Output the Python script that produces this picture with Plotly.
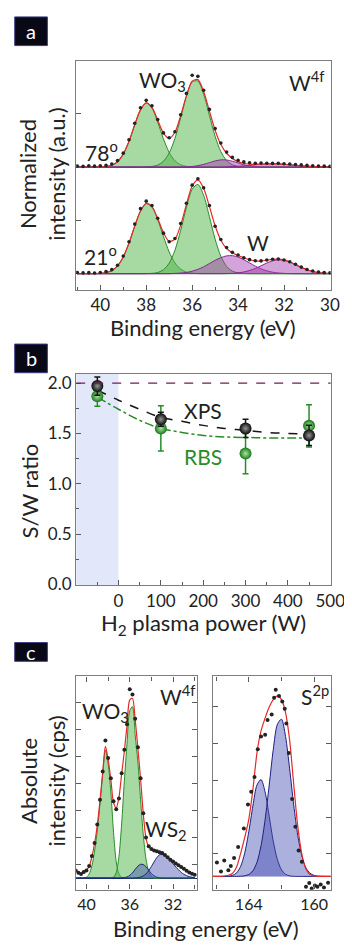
import plotly.graph_objects as go

# ---------------- Panel a : W4f spectra (normalized), energy grid in eV ----------------
E_W4F = [41.0, 40.75, 40.5, 40.25, 40.0, 39.75, 39.5, 39.25, 39.0, 38.75, 38.5, 38.25, 38.0,
         37.75, 37.5, 37.25, 37.0, 36.75, 36.5, 36.25, 36.0, 35.75, 35.5, 35.25, 35.0, 34.75,
         34.5, 34.25, 34.0, 33.75, 33.5, 33.25, 33.0, 32.75, 32.5, 32.25, 32.0, 31.75, 31.5,
         31.25, 31.0, 30.75, 30.5, 30.25, 30.0]

# 21 deg spectrum
A21_WO3_A = [0, 0, 0, 0.001, 0.003, 0.010, 0.029, 0.073, 0.157, 0.287, 0.446, 0.587, 0.658,
             0.626, 0.507, 0.349, 0.204, 0.101, 0.043, 0.015, 0.005, 0.001, 0, 0, 0, 0,
             0, 0, 0, 0, 0, 0, 0, 0, 0, 0, 0, 0, 0, 0, 0, 0, 0, 0, 0]
A21_WO3_B = [0, 0, 0, 0, 0, 0, 0, 0, 0, 0, 0, 0, 0.001,
             0.003, 0.011, 0.037, 0.099, 0.220, 0.406, 0.622, 0.791, 0.837, 0.735, 0.536, 0.324, 0.163,
             0.068, 0.024, 0.007, 0.002, 0, 0, 0, 0, 0, 0, 0, 0, 0, 0, 0, 0, 0, 0, 0]
A21_SUB = [0, 0, 0, 0, 0, 0, 0, 0, 0, 0, 0, 0, 0,
           0, 0, 0, 0, 0.003, 0.006, 0.012, 0.024, 0.041, 0.065, 0.095, 0.125, 0.151,
           0.167, 0.169, 0.156, 0.131, 0.101, 0.071, 0.045, 0.027, 0.014, 0.007, 0.003, 0.001, 0,
           0, 0, 0, 0, 0, 0]
A21_W = [0, 0, 0, 0, 0, 0, 0, 0, 0, 0, 0, 0, 0,
         0, 0, 0, 0, 0, 0, 0, 0, 0, 0, 0, 0, 0,
         0.001, 0.003, 0.008, 0.016, 0.030, 0.049, 0.074, 0.100, 0.120, 0.130, 0.126, 0.109, 0.085,
         0.059, 0.037, 0.021, 0.010, 0.005, 0.002]
A21_DATA = [0.012, 0.008, 0.010, 0.006, 0.012, 0.020, 0.038, 0.080, 0.165, 0.300, 0.465, 0.610, 0.680,
            0.640, 0.520, 0.380, 0.300, 0.330, 0.470, 0.660, 0.830, 0.890, 0.805, 0.640, 0.445, 0.320,
            0.245, 0.200, 0.175, 0.150, 0.132, 0.122, 0.120, 0.128, 0.136, 0.138, 0.128, 0.112, 0.088,
            0.062, 0.040, 0.025, 0.015, 0.010, 0.008]

# 78 deg spectrum
A78_WO3_A = [0, 0, 0, 0, 0.001, 0.005, 0.017, 0.050, 0.121, 0.241, 0.396, 0.536, 0.600,
             0.553, 0.421, 0.264, 0.137, 0.058, 0.021, 0.006, 0.001, 0, 0, 0, 0, 0,
             0, 0, 0, 0, 0, 0, 0, 0, 0, 0, 0, 0, 0, 0, 0, 0, 0, 0, 0]
A78_WO3_B = [0, 0, 0, 0, 0, 0, 0, 0, 0, 0, 0, 0, 0.001,
             0.005, 0.018, 0.054, 0.131, 0.268, 0.460, 0.661, 0.798, 0.806, 0.683, 0.485, 0.288, 0.144,
             0.060, 0.021, 0.006, 0.002, 0, 0, 0, 0, 0, 0, 0, 0, 0, 0, 0, 0, 0, 0, 0]
A78_SUB = [0, 0, 0, 0, 0, 0, 0, 0, 0, 0, 0, 0, 0,
           0, 0, 0, 0, 0, 0, 0.002, 0.005, 0.013, 0.025, 0.041, 0.057, 0.067,
           0.066, 0.054, 0.038, 0.022, 0.011, 0.004, 0.001, 0, 0, 0, 0, 0, 0,
           0, 0, 0, 0, 0, 0]
A78_W = [0, 0, 0, 0, 0, 0, 0, 0, 0, 0, 0, 0, 0,
         0, 0, 0, 0, 0, 0, 0, 0, 0, 0, 0, 0, 0,
         0.003, 0.005, 0.007, 0.011, 0.016, 0.021, 0.026, 0.029, 0.030, 0.029, 0.026, 0.021, 0.016,
         0.011, 0.007, 0.005, 0.003, 0.001, 0.001]
A78_DATA = [0.010, 0.006, 0.012, 0.008, 0.012, 0.015, 0.028, 0.060, 0.130, 0.255, 0.410, 0.555, 0.625,
            0.575, 0.445, 0.320, 0.275, 0.330, 0.490, 0.690, 0.860, 0.850, 0.720, 0.540, 0.360, 0.225,
            0.140, 0.090, 0.062, 0.048, 0.040, 0.036, 0.038, 0.036, 0.034, 0.035, 0.030, 0.028, 0.024,
            0.020, 0.015, 0.012, 0.010, 0.008, 0.006]
A_TICKS = [40, 38, 36, 34, 32, 30]
A_MINOR = [41, 39, 37, 35, 33, 31]

# ---------------- Panel b : S/W ratio vs H2 plasma power ----------------
POWER = [-50, 100, 300, 450]
XPS_RATIO = [1.97, 1.64, 1.55, 1.48]
XPS_ERR = [0.09, 0.07, 0.09, 0.10]
RBS_RATIO = [1.87, 1.55, 1.30, 1.575]
RBS_ERR = [0.10, 0.225, 0.20, 0.21]
FIT_POWER = [-50, 0, 50, 100, 150, 200, 250, 300, 350, 400, 450]
XPS_FIT = [1.93, 1.83, 1.74, 1.66, 1.62, 1.58, 1.55, 1.53, 1.51, 1.50, 1.49]
RBS_FIT = [1.86, 1.74, 1.63, 1.55, 1.51, 1.48, 1.465, 1.46, 1.455, 1.455, 1.455]
STOICH_RATIO = 2.0
PRISTINE_RANGE = [-100, 0]
B_XTICKS = [0, 100, 200, 300, 400, 500]
B_XMINOR = [-50, 50, 150, 250, 350, 450]
B_YTICKS = [0.0, 0.5, 1.0, 1.5, 2.0]
B_YTEXT = ["0.0", "0.5", "1.0", "1.5", "2.0"]
B_YMINOR = [0.25, 0.75, 1.25, 1.75]

# ---------------- Panel c : absolute W4f (left) and S2p (right) ----------------
C_WO3_A = [0, 0, 0, 0, 0.03, 0.15, 0.45, 1.0, 1.75, 2.75, 3.85, 4.75, 4.25,
           3.2, 1.7, 0.6, 0.15, 0.03, 0, 0, 0, 0, 0, 0, 0, 0,
           0, 0, 0, 0, 0, 0, 0, 0, 0, 0, 0, 0, 0, 0, 0, 0, 0, 0, 0]
C_WO3_B = [0, 0, 0, 0, 0, 0, 0, 0, 0, 0, 0, 0, 0,
           0, 0.03, 0.2, 0.8, 2.0, 3.6, 5.0, 6.2, 6.35, 5.3, 4.3, 2.9, 1.6,
           0.7, 0.25, 0.06, 0, 0, 0, 0, 0, 0, 0, 0, 0, 0, 0, 0, 0, 0, 0, 0]
C_WS2_B = [0, 0, 0, 0, 0, 0, 0, 0, 0, 0, 0, 0, 0,
           0, 0, 0, 0, 0, 0.015, 0.04, 0.097, 0.19, 0.32, 0.44, 0.51, 0.50,
           0.42, 0.29, 0.17, 0.083, 0.034, 0.012, 0.003, 0, 0, 0, 0, 0, 0,
           0, 0, 0, 0, 0, 0]
C_WS2_A = [0, 0, 0, 0, 0, 0, 0, 0, 0, 0, 0, 0, 0,
           0, 0, 0, 0, 0, 0, 0, 0, 0, 0.005, 0.014, 0.036, 0.078,
           0.154, 0.27, 0.43, 0.60, 0.76, 0.86, 0.87, 0.84, 0.76, 0.65, 0.53, 0.41, 0.31,
           0.21, 0.14, 0.09, 0.054, 0.03, 0.017]
C_W4F_FIT = [0.30, 0.22, 0.17, 0.20, 0.30, 0.43, 0.79, 1.28, 1.95, 2.87, 3.91, 4.88, 4.39,
             3.66, 2.80, 2.60, 2.99, 3.85, 4.70, 5.68, 6.60, 6.65, 5.86, 4.82, 3.66, 2.38,
             1.47, 1.16, 1.06, 1.01, 0.98, 0.95, 0.92, 0.83, 0.76, 0.67, 0.60, 0.53, 0.47,
             0.41, 0.33, 0.27, 0.22, 0.16, 0.12]
C_W4F_DATA = [0.28, 0.20, 0.15, 0.22, 0.28, 0.45, 0.82, 1.30, 1.98, 2.90, 3.95, 5.10, 4.45,
              3.70, 2.85, 2.55, 2.95, 3.88, 4.75, 5.70, 7.00, 6.80, 5.90, 4.85, 3.70, 2.40,
              1.50, 1.18, 1.08, 1.02, 0.99, 0.96, 0.93, 0.85, 0.77, 0.68, 0.61, 0.54, 0.47,
              0.41, 0.34, 0.27, 0.21, 0.16, 0.12]
C_TICKS = [40, 36, 32]
C_MINOR = [38, 34, 30]
C_YTICKS = [0.5, 1.5, 2.5, 3.5, 4.5, 5.5, 6.5]

E_S2P = [166.25, 166.0, 165.75, 165.5, 165.25, 165.0, 164.75, 164.5, 164.25, 164.0, 163.75, 163.5,
         163.25, 163.0, 162.75, 162.5, 162.25, 162.0, 161.75, 161.5, 161.25, 161.0, 160.75, 160.5,
         160.25, 160.0, 159.75, 159.5, 159.25, 159.0]
S2P_A = [0, 0, 0, 0, 0, 0, 0, 0.004, 0.016, 0.052, 0.15, 0.38,
         0.83, 1.54, 2.48, 3.45, 4.13, 4.27, 3.80, 2.92, 1.94, 1.11, 0.55, 0.23,
         0.085, 0.027, 0.007, 0.002, 0, 0]
S2P_B = [0, 0, 0, 0, 0.006, 0.026, 0.093, 0.27, 0.63, 1.21, 1.91, 2.48,
         2.63, 2.29, 1.63, 0.95, 0.46, 0.18, 0.057, 0.015, 0.003, 0, 0, 0,
         0, 0, 0, 0, 0, 0]
S2P_FIT = [0, 0, 0, 0.01, 0.03, 0.08, 0.25, 0.62, 1.05, 1.55, 2.35, 3.35,
           3.95, 4.30, 4.60, 4.80, 4.90, 4.80, 4.45, 3.70, 2.50, 1.35, 0.60, 0.20,
           0.05, 0.01, 0, 0, 0, 0]
S2P_DATA_E = [165.95, 165.7, 165.5, 165.25, 165.1, 164.9, 164.65, 164.3, 164.05, 163.85, 163.65,
              163.45, 163.25, 163.0, 162.85, 162.6, 162.45, 162.35, 162.15, 161.95, 161.8, 161.7,
              161.55, 161.35, 161.15, 160.95, 160.75, 160.5, 160.3, 160.15, 159.95, 159.8, 159.6,
              159.4, 159.15]
S2P_DATA = [0.38, 0.13, 0.43, 0.17, 0.28, 0.50, 0.80, 1.30, 1.95, 2.30, 2.70,
            3.45, 3.80, 3.85, 4.25, 4.40, 4.85, 5.07, 4.90, 4.75, 4.55, 4.15,
            3.35, 2.10, 1.35, 0.70, 0.40, -0.28, -0.18, -0.33, -0.25, -0.28, -0.22,
            -0.30, -0.17]
S2P_TICKS = [164, 160]
S2P_MINOR = [166, 162]
S2P_YTICKS = [0.61, 1.61, 2.61, 3.61, 4.61]

# ---------------- styles ----------------
W, H = 352, 946
FONT = "Lato"
GREEN_F, GREEN_L = "rgba(80,180,70,0.5)", "rgb(40,140,40)"
PURP_F, PURP_L = "rgba(160,50,170,0.45)", "rgb(135,40,150)"
BLUE_F, BLUE_L = "rgba(70,80,180,0.45)", "rgb(30,30,130)"
RED = "rgb(230,40,40)"
DOT = "rgb(35,35,35)"
AX = "rgb(125,125,125)"


def px(x):
    return x / W


def py(y):
    return 1 - y / H


fig = go.Figure()


def comp(x, y, xa, ya, fill, line):
    fig.add_trace(go.Scatter(x=x, y=y, xaxis=xa, yaxis=ya, mode="lines",
                             line=dict(color=line, width=1, shape="spline", smoothing=0.8),
                             fill="tozeroy", fillcolor=fill, hoverinfo="skip", showlegend=False))


def envelope(x, y, xa, ya):
    fig.add_trace(go.Scatter(x=x, y=y, xaxis=xa, yaxis=ya, mode="lines",
                             line=dict(color=RED, width=1.2, shape="spline", smoothing=0.8),
                             hoverinfo="skip", showlegend=False))


def dots(x, y, xa, ya, size):
    fig.add_trace(go.Scatter(x=x, y=y, xaxis=xa, yaxis=ya, mode="markers",
                             marker=dict(color=DOT, size=size, line=dict(width=0)),
                             hoverinfo="skip", showlegend=False))


# panel a
for comps, ya in (((A21_WO3_A, A21_WO3_B, A21_SUB, A21_W), "y"),
                  ((A78_WO3_A, A78_WO3_B, A78_SUB, A78_W), "y2")):
    comp(E_W4F, comps[0], "x", ya, GREEN_F, GREEN_L)
    comp(E_W4F, comps[1], "x", ya, GREEN_F, GREEN_L)
    comp(E_W4F, comps[2], "x", ya, PURP_F, PURP_L)
    comp(E_W4F, comps[3], "x", ya, PURP_F, PURP_L)
env21 = [a + b + c + d for a, b, c, d in zip(A21_WO3_A, A21_WO3_B, A21_SUB, A21_W)]
env78 = [a + b + c + d for a, b, c, d in zip(A78_WO3_A, A78_WO3_B, A78_SUB, A78_W)]
envelope(E_W4F, env21, "x", "y")
envelope(E_W4F, env78, "x", "y2")
dots(E_W4F, A21_DATA, "x", "y", 3.6)
dots(E_W4F, A78_DATA, "x", "y2", 3.6)

# panel b
fig.add_trace(go.Scatter(x=FIT_POWER, y=RBS_FIT, xaxis="x2", yaxis="y3", mode="lines",
                         line=dict(color="rgb(40,140,40)", width=1.5, dash="dashdot", shape="spline"),
                         hoverinfo="skip", showlegend=False))
fig.add_trace(go.Scatter(x=FIT_POWER, y=XPS_FIT, xaxis="x2", yaxis="y3", mode="lines",
                         line=dict(color="rgb(20,20,20)", width=1.5, dash="dash", shape="spline"),
                         hoverinfo="skip", showlegend=False))
fig.add_trace(go.Scatter(x=POWER, y=RBS_RATIO, xaxis="x2", yaxis="y3", mode="markers",
                         error_y=dict(type="data", array=RBS_ERR, color="rgb(40,140,40)", thickness=1.5, width=3),
                         marker=dict(size=12, color="rgb(25,120,25)", line=dict(width=0),
                                     gradient=dict(type="radial", color="rgb(170,230,160)")),
                         hoverinfo="skip", showlegend=False))
fig.add_trace(go.Scatter(x=POWER, y=XPS_RATIO, xaxis="x2", yaxis="y3", mode="markers",
                         error_y=dict(type="data", array=XPS_ERR, color="rgb(20,20,20)", thickness=1.5, width=3),
                         marker=dict(size=12, color="rgb(10,10,10)", line=dict(width=0),
                                     gradient=dict(type="radial", color="rgb(150,150,150)")),
                         hoverinfo="skip", showlegend=False))

# panel c left
comp(E_W4F, C_WO3_A, "x3", "y4", GREEN_F, GREEN_L)
comp(E_W4F, C_WO3_B, "x3", "y4", GREEN_F, GREEN_L)
comp(E_W4F, C_WS2_B, "x3", "y4", BLUE_F, BLUE_L)
comp(E_W4F, C_WS2_A, "x3", "y4", BLUE_F, BLUE_L)
envelope(E_W4F, C_W4F_FIT, "x3", "y4")
dots(E_W4F, C_W4F_DATA, "x3", "y4", 4)

# panel c right
comp(E_S2P, S2P_B, "x4", "y5", BLUE_F, BLUE_L)
comp(E_S2P, S2P_A, "x4", "y5", BLUE_F, BLUE_L)
envelope(E_S2P, S2P_FIT, "x4", "y5")
dots(S2P_DATA_E, S2P_DATA, "x4", "y5", 4)

# ---------------- axes ----------------
TICKFONT = dict(family=FONT, size=17, color="#222")


def axis(**kw):
    base = dict(showline=True, linecolor=AX, linewidth=1.4, mirror=True, ticks="inside",
                tickcolor="rgb(90,90,90)", ticklen=5, tickwidth=1, showgrid=False,
                zeroline=False, tickfont=TICKFONT)
    base.update(kw)
    return base


A_X = [px(71), px(336)]
fig.update_layout(
    width=W, height=H, margin=dict(l=0, r=0, t=0, b=0),
    paper_bgcolor="white", plot_bgcolor="white", font=dict(family=FONT, color="#222"),
    showlegend=False,
    xaxis=axis(domain=A_X, anchor="y", range=[41.05, 29.97], tickvals=A_TICKS,
               minor=dict(tickvals=A_MINOR, ticks="inside", ticklen=3, tickcolor="rgb(90,90,90)")),
    yaxis=axis(domain=[py(283), py(52)], anchor="x", range=[-0.15, 1.99], tickvals=[0.5, 1.5],
               showticklabels=False, zeroline=True, zerolinecolor=PURP_L, zerolinewidth=1.2),
    yaxis2=dict(overlaying="y", anchor="x", range=[-1.15, 0.99], showline=False, showticklabels=False,
                ticks="", showgrid=False, zeroline=True, zerolinecolor=PURP_L, zerolinewidth=1.2),
    xaxis2=axis(domain=A_X, anchor="y3", range=[-100, 501], tickvals=B_XTICKS,
                minor=dict(tickvals=B_XMINOR, ticks="inside", ticklen=3, tickcolor="rgb(90,90,90)")),
    yaxis3=axis(domain=[py(581.7), py(368.3)], anchor="x2", range=[-0.005, 2.09], tickvals=B_YTICKS,
                ticktext=B_YTEXT,
                minor=dict(tickvals=B_YMINOR, ticks="inside", ticklen=3, tickcolor="rgb(90,90,90)")),
    xaxis3=axis(domain=[px(71), px(196.7)], anchor="y4", range=[40.95, 29.8], tickvals=C_TICKS,
                mirror="allticks", tickfont=dict(family=FONT, size=16, color="#222"),
                minor=dict(tickvals=C_MINOR, ticks="inside", ticklen=4, tickcolor="rgb(90,90,90)")),
    yaxis4=axis(domain=[py(890), py(674.3)], anchor="x3", range=[-0.43, 7.47], tickvals=C_YTICKS,
                showticklabels=False, mirror="allticks", zeroline=True, zerolinecolor=BLUE_L,
                zerolinewidth=1.2),
    xaxis4=axis(domain=[px(213.3), px(336.7)], anchor="y5", range=[166.2, 158.95], tickvals=S2P_TICKS,
                mirror="allticks", tickfont=dict(family=FONT, size=16, color="#222"),
                minor=dict(tickvals=S2P_MINOR, ticks="inside", ticklen=4, tickcolor="rgb(90,90,90)")),
    yaxis5=axis(domain=[py(890), py(674.3)], anchor="x4", range=[-0.36, 5.43], tickvals=S2P_YTICKS,
                showticklabels=False, mirror="allticks"),
)

# pristine region and stoichiometric line in panel b
fig.add_shape(type="rect", xref="x2", yref="y3 domain", x0=PRISTINE_RANGE[0], x1=PRISTINE_RANGE[1],
              y0=0, y1=1, fillcolor="rgb(226,232,250)", line=dict(width=0), layer="below")
fig.add_shape(type="line", xref="x2 domain", yref="y3", x0=0, x1=1, y0=STOICH_RATIO, y1=STOICH_RATIO,
              line=dict(color="rgb(110,30,90)", width=1.3, dash="dash"))

# panel label boxes
for lab, top, bot in (("a", 7, 36), ("b", 338, 367), ("c", 640, 659)):
    fig.add_shape(type="rect", xref="paper", yref="paper", x0=px(7), x1=px(41), y0=py(bot), y1=py(top),
                  fillcolor="rgb(8,8,22)", line=dict(color="rgb(60,60,130)", width=1))
    fig.add_annotation(xref="paper", yref="paper", x=px(24), y=py((top + bot) / 2), text=lab,
                       showarrow=False, font=dict(family=FONT, size=20, color="white"),
                       xanchor="center", yanchor="middle")

LABEL = dict(family=FONT, size=21, color="#222")


def note(text, x, y, xref, yref, font=LABEL, **kw):
    fig.add_annotation(text=text, x=x, y=y, xref=xref, yref=yref, showarrow=False, font=font,
                       xanchor="center", yanchor="middle", **kw)


# panel a labels
note("WO<sub>3</sub>", 37.3, 1.81, "x", "y")
note("W<sup>4f</sup>", 31.0, 1.81, "x", "y")
note("78<sup>o</sup>", 39.96, 1.15, "x", "y")
note("21<sup>o</sup>", 40.0, 0.18, "x", "y")
note("W", 33.14, 0.29, "x", "y")
# panel b labels
note("XPS", 200, 1.73, "x2", "y3")
note("RBS", 200, 1.27, "x2", "y3", font=dict(family=FONT, size=21, color="rgb(40,140,40)"))
# panel c labels
note("WO<sub>3</sub>", 38.28, 6.16, "x3", "y4")
note("W<sup>4f</sup>", 31.6, 6.79, "x3", "y4")
note("WS<sub>2</sub>", 32.68, 1.77, "x3", "y4")
note("S<sup>2p</sup>", 159.94, 4.92, "x4", "y5")

TITLE = dict(family=FONT, size=22, color="#222")
note("Binding energy (eV)", px(203.5), py(321), "paper", "paper", font=TITLE)
note("Normalized<br>intensity (a.u.)", px(36), py(166), "paper", "paper", font=TITLE, textangle=-90)
note("H<sub>2</sub> plasma power (W)", px(203.5), py(621), "paper", "paper", font=TITLE)
note("S/W ratio", px(22), py(487), "paper", "paper", font=TITLE, textangle=-90)
note("Binding energy (eV)", px(206), py(929), "paper", "paper", font=TITLE)
note("Absolute<br>intensity (cps)", px(36), py(780), "paper", "paper", font=TITLE, textangle=-90)

fig.write_html("out.html")
